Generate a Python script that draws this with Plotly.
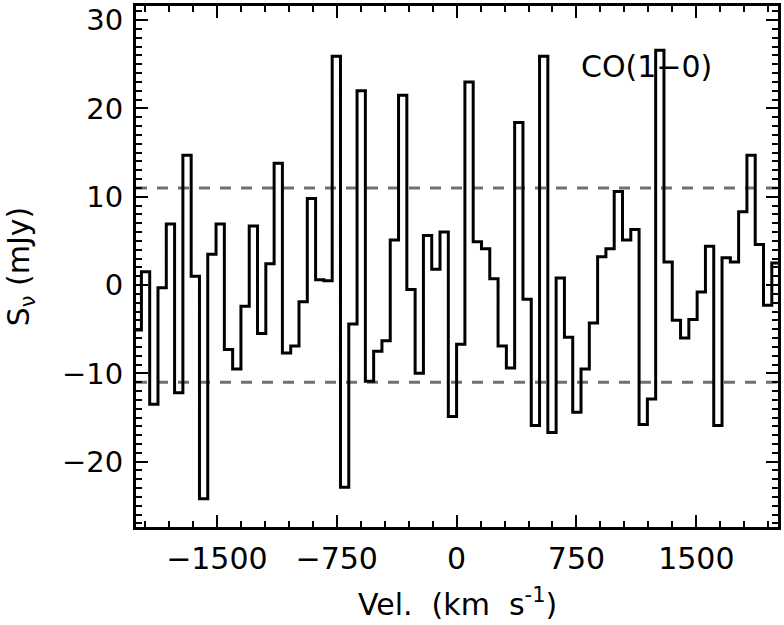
import numpy as np
import plotly.graph_objects as go

# ---- data ----
flux_mjy = [
    -5.1, 1.5, -13.5, -0.3, 6.9, -12.2, 14.7, 1.0, -24.2, 3.5,
    6.9, -7.3, -9.5, -2.4, 6.7, -5.5, 2.4, 13.8, -7.7, -6.9,
    -1.9, 9.8, 0.6, 0.5, 25.9, -22.9, -4.4, 22.0, -10.9, -7.5,
    -6.3, 5.1, 21.5, -0.5, -10.0, 5.6, 1.8, 6.0, -14.9, -6.7,
    23.0, 4.9, 4.1, 0.7, -6.9, -9.4, 18.4, -1.6, -15.9, 25.9,
    -16.7, 0.8, -5.9, -14.4, -9.5, -4.3, 3.2, 4.1, 10.6, 5.1,
    6.3, -15.8, -12.9, 26.6, 2.6, -4.0, -6.0, -3.9, -0.8, 4.4,
    -15.9, 3.1, 2.6, 8.3, 14.7, 4.6, -2.3, 2.5,
]
channel_width = 51.9          # km/s
first_channel_index = -39     # left edge of first channel, in channel widths
sigma_levels = [11.0, -11.0]
x_tick_vals = [-1500, -750, 0, 750, 1500]
y_tick_vals = [-20, -10, 0, 10, 20, 30]
line_label = "CO(1\u22120)"
label_pos = (1191, 24.8)
x_title = "Vel.\u00a0 (km\u00a0 s<sup>-1</sup>)"
y_title = "S<sub>\u03bd</sub> (mJy)"

# ---- channel edges (step plot) ----
n = len(flux_mjy)
edges = (first_channel_index + np.arange(n + 1)) * channel_width
y_step = list(flux_mjy) + [flux_mjy[-1]]

FONT = "DejaVu Sans"
PLOT_TOP, PLOT_BOTTOM = 3, 527

fig = go.Figure()
fig.add_trace(go.Scatter(
    x=edges, y=y_step, mode="lines",
    line=dict(shape="hv", color="black", width=3),
    showlegend=False, hoverinfo="skip",
))

for lvl in sigma_levels:
    fig.add_shape(type="line", xref="paper", x0=0, x1=1, yref="y", y0=lvl, y1=lvl,
                  line=dict(color="#707070", width=3, dash="11px,10px"), layer="below")

fig.add_annotation(x=label_pos[0], y=label_pos[1], xref="x", yref="y",
                   text=line_label, showarrow=False,
                   font=dict(family=FONT, size=30, color="black"))

# x-axis title as a paper-positioned annotation (centre at ~603 px from top)
plot_h = PLOT_BOTTOM - PLOT_TOP
fig.add_annotation(x=0.5, xref="paper", y=(PLOT_BOTTOM - 603) / plot_h, yref="paper",
                   yanchor="middle", text=x_title, showarrow=False,
                   font=dict(family=FONT, size=30, color="black"))

axis_common = dict(
    showgrid=False, zeroline=False, showline=True, linecolor="black", linewidth=3,
    mirror="ticks", ticks="inside", ticklen=12, tickwidth=2, tickcolor="black",
)

fig.update_xaxes(
    range=[-2006, 2011], tickmode="array", tickvals=x_tick_vals,
    minor=dict(dtick=150, ticks="inside", ticklen=6, tickwidth=2, tickcolor="black"),
    tickfont=dict(family=FONT, size=30, color="black"),
    ticklabelstandoff=3,
    **axis_common,
)
fig.update_yaxes(
    range=[-27.4, 31.6], tickmode="array", tickvals=y_tick_vals,
    minor=dict(dtick=1, ticks="inside", ticklen=6, tickwidth=2, tickcolor="black"),
    tickfont=dict(family=FONT, size=29, color="black"),
    title=dict(text=y_title, font=dict(family=FONT, size=30, color="black"),
               standoff=24),
    ticklabelstandoff=4,
    **axis_common,
)

fig.update_layout(
    width=784, height=625,
    margin=dict(l=136, r=4, t=PLOT_TOP, b=625 - PLOT_BOTTOM),
    plot_bgcolor="white", paper_bgcolor="white",
    showlegend=False,
)

fig.write_html("out.html")
